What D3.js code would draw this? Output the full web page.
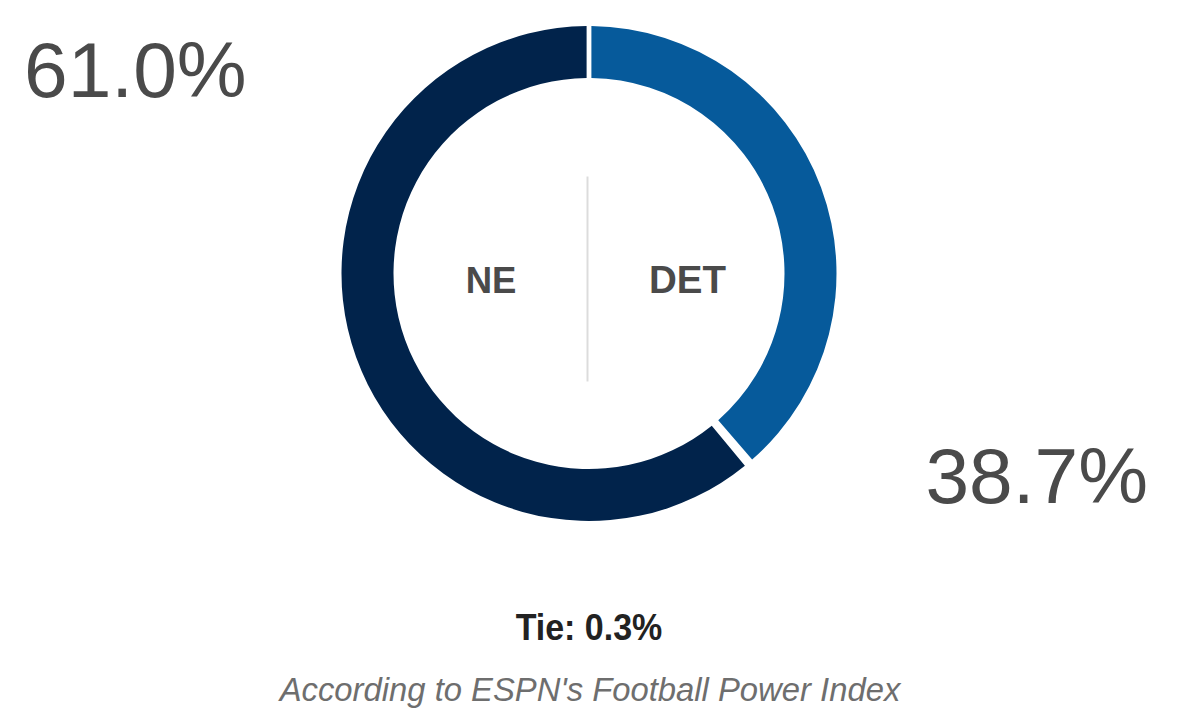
<!DOCTYPE html>
<html>
<head>
<meta charset="utf-8">
<script src="https://cdn.jsdelivr.net/npm/d3@7"></script>
<style>
  html, body { margin: 0; padding: 0; background: #fff; }
  svg { display: block; }
</style>
</head>
<body>
<svg id="chart" width="1200" height="714"></svg>
<script>
const outcomes = ["DET", "Tie", "NE"];
const probs = [38.7, 0.3, 61.0];
const colors = ["#065a9b", "#ffffff", "#01234b"];
const subtitle = "According to ESPN's Football Power Index";

const svg = d3.select("#chart");
const cx = 589, cy = 273.5, outerR = 247.5, innerR = 195.5;

const pie = d3.pie().sort(null).value(d => d);
const arcs = pie(probs);
const arc = d3.arc().innerRadius(innerR).outerRadius(outerR).padRadius(220).padAngle(4.8 / 220);

const g = svg.append("g").attr("transform", `translate(${cx},${cy})`);
g.selectAll("path").data(arcs).join("path")
  .attr("d", arc)
  .attr("fill", (d, i) => colors[i]);

// divider
g.append("line").attr("x1", -1.5).attr("x2", -1.5).attr("y1", -97).attr("y2", 108)
  .attr("stroke", "#dcdcdc").attr("stroke-width", 2);

const fmt = v => v.toFixed(1) + "%";
const font = "'Liberation Sans', Arial, sans-serif";

// team labels
g.append("text").attr("x", -98).attr("y", 19).attr("text-anchor", "middle")
  .attr("font-family", font).attr("font-weight", "bold").attr("font-size", 36.5)
  .attr("fill", "#4a4a4a").text(outcomes[2]);
g.append("text").attr("x", 98.5).attr("y", 19).attr("text-anchor", "middle")
  .attr("font-family", font).attr("font-weight", "bold").attr("font-size", 38.5)
  .attr("fill", "#4a4a4a").text(outcomes[0]);

// percentages
svg.append("text").attr("x", 24).attr("y", 97)
  .attr("font-family", font).attr("font-size", 78.5).attr("fill", "#4a4a4a")
  .text(fmt(probs[2]));
svg.append("text").attr("x", 1148).attr("y", 503).attr("text-anchor", "end")
  .attr("font-family", font).attr("font-size", 78.5).attr("fill", "#4a4a4a")
  .text(fmt(probs[0]));

// tie
svg.append("text").attr("x", 589).attr("y", 640).attr("text-anchor", "middle")
  .attr("font-family", font).attr("font-weight", "bold").attr("font-size", 34)
  .attr("fill", "#222")
  .attr("transform", "translate(589,640) scale(1,1.06) translate(-589,-640)")
  .text(outcomes[1] + ": " + fmt(probs[1]));

// subtitle
svg.append("text").attr("x", 590).attr("y", 701).attr("text-anchor", "middle")
  .attr("font-family", font).attr("font-style", "italic").attr("font-size", 32.8)
  .attr("fill", "#6e6e6e")
  .text(subtitle);
</script>
</body>
</html>
